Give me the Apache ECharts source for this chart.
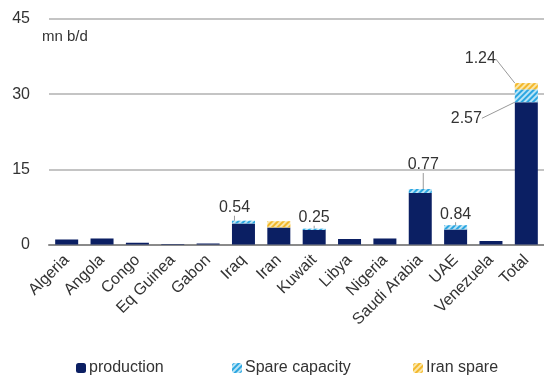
<!DOCTYPE html>
<html>
<head>
<meta charset="utf-8">
<script src="https://cdn.jsdelivr.net/npm/echarts@6/dist/echarts.min.js"></script>
<style>
html,body{margin:0;padding:0;background:#fff;}
#c{width:544px;height:376px;}
</style>
</head>
<body>
<div id="c"></div>
<script>
const categories = ['Algeria','Angola','Congo','Eq Guinea','Gabon','Iraq','Iran','Kuwait','Libya','Nigeria','Saudi Arabia','UAE','Venezuela','Total'];
const production = [1.0, 1.2, 0.35, 0.1, 0.2, 4.2, 3.4, 2.9, 1.1, 1.2, 10.3, 3.0, 0.7, 28.4];
const spareCapacity = [0, 0, 0, 0, 0, 0.54, 0, 0.25, 0, 0, 0.77, 0.84, 0, 2.57];
const iranSpare = [0, 0, 0, 0, 0, 0, 1.24, 0, 0, 0, 0, 0, 0, 1.24];
const spareLabelled = [5, 7, 10, 11, 13];
const iranLabelled = [13];
const yTicks = {min: 0, max: 45, interval: 15};

const FONT = 'Liberation Sans, Arial, sans-serif';
const chart = echarts.init(document.getElementById('c'), null, {renderer: 'canvas'});

const labelMoves = {
  's5': {dx: -9, dy: -2},
  's10': {dx: 3, dy: -13},
  's13': {dx: -60, dy: 40},
  'i13': {dx: -46, dy: -13}
};

function spareData(arr, labelled) {
  return arr.map((v, i) => ({value: v, label: {show: labelled.indexOf(i) >= 0}}));
}

const legendText = {fontSize: 16, fontFamily: FONT, color: '#333', padding: [0, 0, 0, -2]};

const option = {
  animation: false,
  grid: {left: 49, right: -3, top: 19, bottom: 131.5, containLabel: false},
  graphic: [{
    type: 'text', left: 42, top: 29,
    style: {text: 'mn b/d', font: '15px ' + FONT, fill: '#333'}
  }],
  legend: [
    {data: ['production'], left: 71, top: 355, itemWidth: 10, itemHeight: 10, textStyle: legendText},
    {data: ['Spare capacity'], left: 227, top: 355, itemWidth: 10, itemHeight: 10, textStyle: legendText},
    {data: ['Iran spare'], left: 408, top: 355, itemWidth: 10, itemHeight: 10, textStyle: legendText}
  ],
  xAxis: {
    type: 'category', data: categories, boundaryGap: true,
    axisTick: {show: false},
    axisLine: {lineStyle: {color: '#8a8a8a', width: 2}},
    axisLabel: {rotate: 45, interval: 0, fontSize: 16, fontFamily: FONT, color: '#333', margin: 13}
  },
  yAxis: {
    type: 'value', min: yTicks.min, max: yTicks.max, interval: yTicks.interval,
    axisLine: {show: false}, axisTick: {show: false},
    axisLabel: {fontSize: 16, fontFamily: FONT, color: '#333', margin: 19},
    splitLine: {lineStyle: {color: '#c4c4c4', width: 2}}
  },
  series: [
    {
      name: 'production', type: 'bar', stack: 'a', barWidth: 23,
      data: production,
      itemStyle: {color: '#0b1f63'}
    },
    {
      name: 'Spare capacity', type: 'bar', stack: 'a', barWidth: 23,
      data: spareData(spareCapacity, spareLabelled),
      itemStyle: {
        color: '#b9e4f6',
        decal: {symbol: 'rect', symbolSize: 1, dashArrayX: [1, 0], dashArrayY: [2, 2], rotation: -Math.PI / 4, color: '#2ba6e1'}
      },
      label: {show: false, position: 'top', distance: 3, fontSize: 16, fontFamily: FONT, color: '#333',
              formatter: p => p.value.toFixed(2)},
      labelLine: {show: true, lineStyle: {color: '#999', width: 1}},
      labelLayout: function (p) { return labelMoves['s' + p.dataIndex] || {}; }
    },
    {
      name: 'Iran spare', type: 'bar', stack: 'a', barWidth: 23,
      data: spareData(iranSpare, iranLabelled),
      itemStyle: {
        color: '#fbe7a8',
        decal: {symbol: 'rect', symbolSize: 1, dashArrayX: [1, 0], dashArrayY: [2, 2], rotation: -Math.PI / 4, color: '#f3b82c'}
      },
      label: {show: false, position: 'top', distance: 3, fontSize: 16, fontFamily: FONT, color: '#333',
              formatter: p => p.value.toFixed(2)},
      labelLine: {show: true, lineStyle: {color: '#999', width: 1}},
      labelLayout: function (p) { return labelMoves['i' + p.dataIndex] || {}; }
    }
  ]
};
chart.setOption(option);
</script>
</body>
</html>
